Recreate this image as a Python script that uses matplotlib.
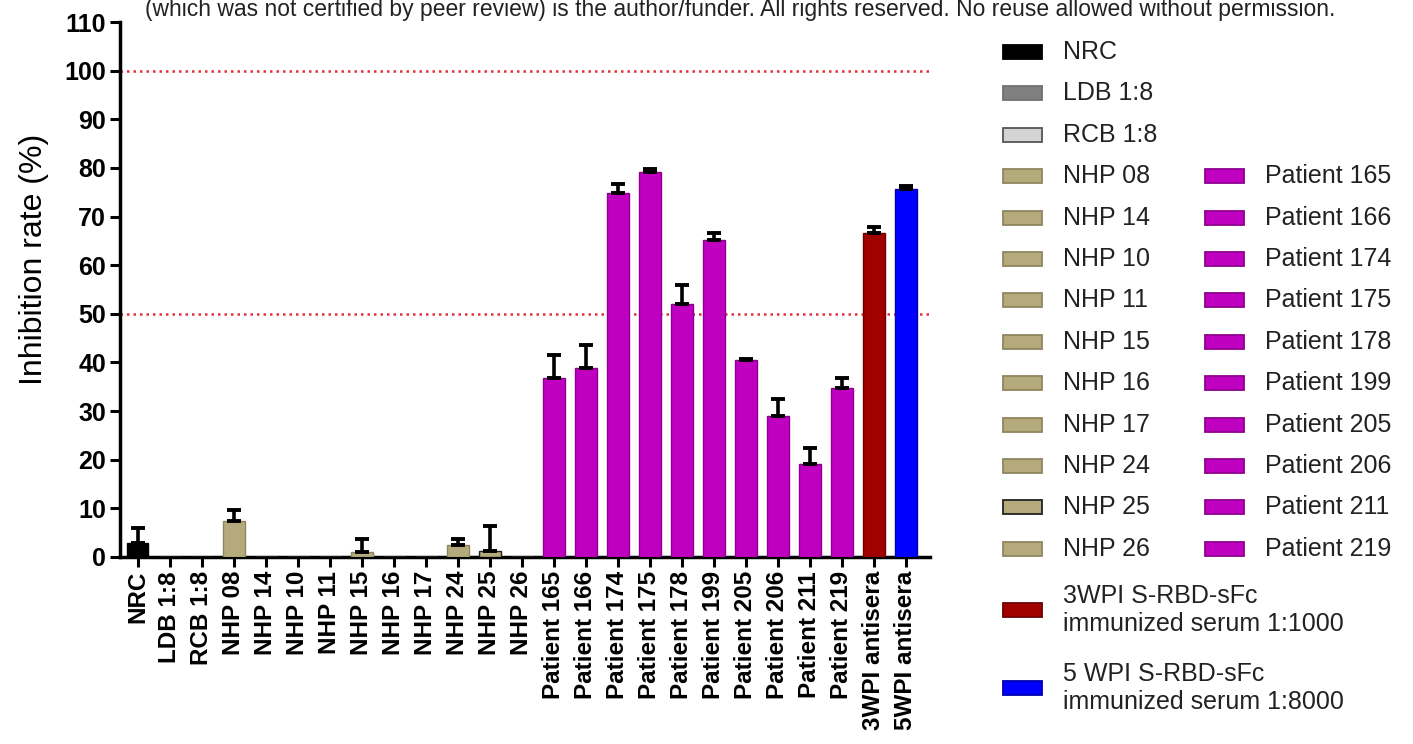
import matplotlib
matplotlib.use("Agg")
import matplotlib.pyplot as plt
from matplotlib.patches import Rectangle
import numpy as np

plt.rcParams['font.family'] = ['Liberation Sans', 'DejaVu Sans']

categories = ["NRC", "LDB 1:8", "RCB 1:8", "NHP 08", "NHP 14", "NHP 10", "NHP 11",
              "NHP 15", "NHP 16", "NHP 17", "NHP 24", "NHP 25", "NHP 26",
              "Patient 165", "Patient 166", "Patient 174", "Patient 175", "Patient 178",
              "Patient 199", "Patient 205", "Patient 206", "Patient 211", "Patient 219",
              "3WPI antisera", "5WPI antisera"]
means = [2.8, 0, 0, 7.5, 0, 0, 0, 1.0, 0, 0, 2.5, 1.3, 0,
         36.9, 38.8, 74.8, 79.1, 52.0, 65.2, 40.5, 28.9, 19.1, 34.8,
         66.6, 75.7]
errors = [3.1, 0, 0, 2.2, 0, 0, 0, 2.7, 0, 0, 1.3, 5.0, 0,
          4.7, 4.8, 1.9, 0.7, 4.0, 1.5, 0.3, 3.6, 3.3, 2.1,
          1.2, 0.5]

KHAKI = "#b5aa7c"
MAG = "#c000c0"
fill_colors = (["#000000", "#808080", "#d4d4d4"] + [KHAKI] * 10 + [MAG] * 10 +
               ["#a00000", "#0000ff"])
edge_colors = (["#000000", "#707070", "#555555"] + ["#8f8660"] * 8 + ["#222222", "#8f8660"] +
               ["#900090"] * 10 + ["#700000", "#0000b0"])

left_labels = ["NRC", "LDB 1:8", "RCB 1:8", "NHP 08", "NHP 14", "NHP 10", "NHP 11",
               "NHP 15", "NHP 16", "NHP 17", "NHP 24", "NHP 25", "NHP 26"]
right_labels = ["Patient 165", "Patient 166", "Patient 174", "Patient 175", "Patient 178",
                "Patient 199", "Patient 205", "Patient 206", "Patient 211", "Patient 219"]
serum_labels = ["3WPI S-RBD-sFc\nimmunized serum 1:1000",
                "5 WPI S-RBD-sFc\nimmunized serum 1:8000"]

yticks = list(range(0, 111, 10))
ref_lines = [50, 100]

W, H = 1413, 744
fig = plt.figure(figsize=(W / 100, H / 100), dpi=100)
ax = fig.add_axes([120 / W, 1 - 557 / H, 810 / W, 535 / H])

x = np.arange(len(categories))
ax.bar(x, means, width=0.68, color=fill_colors, edgecolor=edge_colors, linewidth=1.0, zorder=3)

m = np.array(errors) > 0
ax.errorbar(x[m], np.array(means)[m], yerr=[np.zeros(m.sum()), np.array(errors)[m]],
            fmt='none', ecolor='black', elinewidth=2.6, capsize=4.8, capthick=2.8, zorder=4)

for r in ref_lines:
    ax.axhline(r, color="#e0303c", linestyle=(0, (1, 1.6)), linewidth=1.8, zorder=2)

ax.set_xlim(-0.55, len(categories) - 0.25)
ax.set_ylim(0, 110)
ax.set_yticks(yticks)
ax.set_xticks(x)
ax.set_xticklabels(categories, rotation=90, fontsize=17.5, fontweight='bold')
for lab in ax.get_yticklabels():
    lab.set_fontweight('bold')
ax.tick_params(axis='y', labelsize=18, length=7, width=2.2, direction='out', pad=3)
ax.tick_params(axis='x', length=7, width=2.2, direction='out', pad=3)
for s in ['top', 'right']:
    ax.spines[s].set_visible(False)
for s in ['left', 'bottom']:
    ax.spines[s].set_linewidth(2.5)
ax.set_ylabel("Inhibition rate (%)", fontsize=23)
ax.yaxis.set_label_coords(-0.088, 0.557)

# legend drawn manually in figure pixels
def px(xp, yp):
    return xp / W, 1 - yp / H

row0, step = 52, 41.4
pw, ph = 39 / W, 14 / H
for i, lab in enumerate(left_labels):
    yy = row0 + i * step
    fx, fy = px(1003, yy)
    fig.add_artist(Rectangle((fx, fy - ph / 2), pw, ph, transform=fig.transFigure,
                             facecolor=fill_colors[i], edgecolor=edge_colors[i], linewidth=1.3))
    tx, ty = px(1063, yy)
    fig.text(tx, ty, lab, fontsize=18, va='center', ha='left', color='#222222')

for j, lab in enumerate(right_labels):
    yy = row0 + (j + 3) * step
    k = 13 + j
    fx, fy = px(1205, yy)
    fig.add_artist(Rectangle((fx, fy - ph / 2), pw, ph, transform=fig.transFigure,
                             facecolor=fill_colors[k], edgecolor=edge_colors[k], linewidth=1.3))
    tx, ty = px(1265, yy)
    fig.text(tx, ty, lab, fontsize=18, va='center', ha='left', color='#222222')

for j, (lab, yy) in enumerate(zip(serum_labels, [610, 688])):
    k = 23 + j
    fx, fy = px(1003, yy)
    fig.add_artist(Rectangle((fx, fy - ph / 2), pw, ph, transform=fig.transFigure,
                             facecolor=fill_colors[k], edgecolor=edge_colors[k], linewidth=1.3))
    tx, ty = px(1063, yy)
    fig.text(tx, ty, lab, fontsize=18, va='center', ha='left', color='#222222', linespacing=1.2)

fig.text(740 / W, 1 - 16 / H,
         "(which was not certified by peer review) is the author/funder. All rights reserved. No reuse allowed without permission.",
         fontsize=16.5, ha='center', va='baseline', color='#222222')

fig.savefig("out.png", dpi=100)
